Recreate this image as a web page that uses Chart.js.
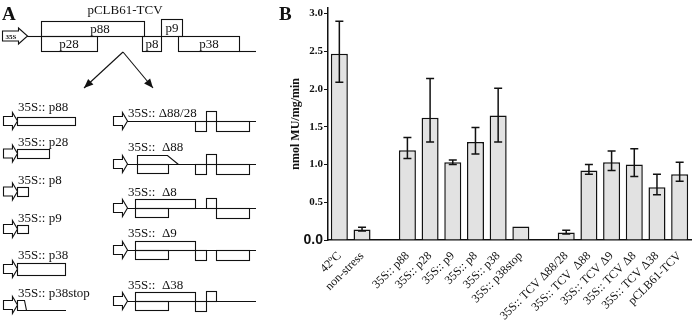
<!doctype html>
<html lang="en">
<head>
<meta charset="utf-8">
<title>pCLB61-TCV</title>
<script src="https://cdn.jsdelivr.net/npm/chart.js@4"></script>
<style>
html, body {margin: 0; padding: 0; background: #fff;}
#wrap {width: 696px; height: 324px;}
</style>
</head>
<body>
<div id="wrap"><canvas id="chart" width="696" height="324"></canvas></div>
<script>
// Données du graphique (panneau B)
const categories = ['42ºC', 'non-stress', '', '35S:: p88', '35S:: p28', '35S:: p9', '35S:: p8', '35S:: p38', '35S:: p38stop', '',
  '35S:: TCV Δ88/28', '35S:: TCV  Δ88', '35S:: TCV Δ9', '35S:: TCV Δ8', '35S:: TCV Δ38', 'pCLB61-TCV'];
const activity    = [2.47, 0.14, null, 1.19, 1.62, 1.03, 1.30, 1.65, 0.18, null, 0.10, 0.92, 1.03, 1.00, 0.70, 0.87];
const errorTop    = [2.90, 0.17, null, 1.36, 2.14, 1.06, 1.49, 2.01, null, null, 0.13, 1.00, 1.18, 1.21, 0.87, 1.03];
const errorBottom = [2.09, 0.12, null, 1.08, 1.30, 1.00, 1.14, 1.30, null, null, 0.08, 0.87, 0.92, 0.84, 0.60, 0.78];
const yAxisTitle = 'nmol MU/mg/min';

const serif = "'Liberation Serif', 'Times New Roman', serif";
const sans = "'Liberation Sans', Arial, sans-serif";
const ink = '#111';

// Barres d'erreur
const errorBars = {
  id: 'errorBars',
  afterDatasetsDraw(chart) {
    const ctx = chart.ctx;
    const meta = chart.getDatasetMeta(0);
    const y = chart.scales.y;
    ctx.save();
    ctx.strokeStyle = ink;
    ctx.lineWidth = 1.5;
    meta.data.forEach((bar, i) => {
      if (errorTop[i] == null) return;
      const x = bar.x;
      const yt = y.getPixelForValue(errorTop[i]);
      const yb = y.getPixelForValue(errorBottom[i]);
      ctx.beginPath();
      ctx.moveTo(x, yt); ctx.lineTo(x, yb);
      ctx.moveTo(x - 4, yt); ctx.lineTo(x + 4, yt);
      ctx.moveTo(x - 4, yb); ctx.lineTo(x + 4, yb);
      ctx.stroke();
    });
    ctx.restore();
  }
};

// Schéma du panneau A
function promoter(ctx, x, cy, len, h, bh) {
  const bx = x + len * 0.64;
  ctx.beginPath();
  ctx.moveTo(x, cy - bh / 2); ctx.lineTo(bx, cy - bh / 2); ctx.lineTo(bx, cy - h / 2);
  ctx.lineTo(x + len, cy); ctx.lineTo(bx, cy + h / 2); ctx.lineTo(bx, cy + bh / 2);
  ctx.lineTo(x, cy + bh / 2); ctx.closePath();
  ctx.fillStyle = '#fff'; ctx.fill(); ctx.stroke();
}
function box(ctx, x1, x2, y1, y2) {
  ctx.strokeRect(x1 + 0.5, y1 + 0.5, x2 - x1, y2 - y1);
}
function line(ctx, x1, y1, x2, y2) {
  ctx.beginPath(); ctx.moveTo(x1, y1); ctx.lineTo(x2, y2); ctx.stroke();
}
function headArrow(ctx, x1, y1, x2, y2) {
  line(ctx, x1, y1, x2, y2);
  const a = Math.atan2(y2 - y1, x2 - x1), L = 10, w = 0.4;
  ctx.beginPath();
  ctx.moveTo(x2, y2);
  ctx.lineTo(x2 - L * Math.cos(a - w), y2 - L * Math.sin(a - w));
  ctx.lineTo(x2 - L * Math.cos(a + w), y2 - L * Math.sin(a + w));
  ctx.closePath(); ctx.fillStyle = ink; ctx.fill();
}

const panelA = {
  id: 'panelA',
  afterDraw(chart) {
    const ctx = chart.ctx;
    ctx.save();
    ctx.strokeStyle = ink;
    ctx.fillStyle = ink;
    ctx.lineWidth = 1.1;

    // lettres des panneaux
    ctx.font = 'bold 19px ' + serif;
    ctx.textBaseline = 'alphabetic';
    ctx.fillText('A', 2, 20);
    ctx.fillText('B', 279, 20);

    // construction complète
    ctx.font = '13px ' + serif;
    ctx.textAlign = 'center';
    ctx.fillText('pCLB61-TCV', 125, 14);
    line(ctx, 27, 36.5, 41, 36.5);
    box(ctx, 41, 144, 21, 36);
    box(ctx, 41, 97, 36, 51);
    box(ctx, 142, 161, 36, 51);
    box(ctx, 161, 182, 19, 36);
    box(ctx, 178, 239, 36, 51);
    line(ctx, 239, 51.5, 256, 51.5);
    ctx.fillStyle = ink;
    ctx.fillText('p88', 100, 33);
    ctx.fillText('p28', 69, 48);
    ctx.fillText('p8', 152, 48);
    ctx.fillText('p9', 172, 32);
    ctx.fillText('p38', 209, 48);
    promoter(ctx, 2.5, 36, 25, 16, 10);
    ctx.fillStyle = ink;
    ctx.font = 'bold 7px ' + serif;
    ctx.fillText('35S', 11, 39);

    headArrow(ctx, 123, 52, 84, 88);
    headArrow(ctx, 123, 52, 153, 88);

    // colonne de gauche
    ctx.textAlign = 'left';
    ctx.font = '13px ' + serif;
    const left = [
      {t: '35S:: p88', ty: 111, cy: 121, x2: 75, h: 8},
      {t: '35S:: p28', ty: 146, cy: 153.5, x2: 49, h: 9},
      {t: '35S:: p8', ty: 184, cy: 191.5, x2: 28, h: 9},
      {t: '35S:: p9', ty: 222, cy: 229, x2: 28, h: 8},
      {t: '35S:: p38', ty: 259, cy: 269, x2: 65, h: 12}
    ];
    left.forEach(r => {
      ctx.fillStyle = ink;
      ctx.fillText(r.t, 18, r.ty);
      box(ctx, 17, r.x2, Math.round(r.cy - r.h / 2), Math.round(r.cy + r.h / 2));
      promoter(ctx, 3.5, r.cy, 14, 17, 9);
    });
    ctx.fillStyle = ink;
    ctx.fillText('35S:: p38stop', 18, 297);
    ctx.beginPath();
    ctx.moveTo(17.5, 300.5); ctx.lineTo(24.5, 300.5); ctx.lineTo(26.5, 310.5); ctx.lineTo(17.5, 310.5); ctx.closePath();
    ctx.stroke();
    line(ctx, 26, 310.5, 66, 310.5);
    promoter(ctx, 3.5, 305, 14, 17, 9);

    // colonne de droite
    const right = [
      {t: '35S:: Δ88/28', ty: 117, cy: 121, p88: 0, p28: false, p8: true, p9: true, p38: true},
      {t: '35S::  Δ88', ty: 151, cy: 164, p88: 2, p28: true, p8: true, p9: true, p38: true},
      {t: '35S::  Δ8', ty: 196, cy: 208, p88: 1, p28: true, p8: false, p9: true, p38: true},
      {t: '35S::  Δ9', ty: 237, cy: 250, p88: 1, p28: true, p8: true, p9: false, p38: true},
      {t: '35S::  Δ38', ty: 289, cy: 301, p88: 1, p28: true, p8: true, p9: true, p38: false}
    ];
    right.forEach(r => {
      const c = r.cy;
      ctx.fillStyle = ink;
      ctx.fillText(r.t, 128, r.ty);
      line(ctx, 127, c + 0.5, 256, c + 0.5);
      if (r.p88 === 1) box(ctx, 135, 195, c - 9, c);
      if (r.p88 === 2) {
        ctx.beginPath();
        ctx.moveTo(137.5, c + 0.5); ctx.lineTo(137.5, c - 8.5); ctx.lineTo(167.5, c - 8.5); ctx.lineTo(178.5, c + 0.5);
        ctx.stroke();
      }
      if (r.p28) box(ctx, r.p88 === 2 ? 137 : 135, 168, c, c + 9);
      if (r.p8) box(ctx, 195, 206, c, c + 10);
      if (r.p9) box(ctx, 206, 216, c - 10, c);
      if (r.p38) box(ctx, 216, 249, c, c + 10);
      promoter(ctx, 113.5, c, 14, 17, 9);
    });
    ctx.restore();
  }
};

new Chart(document.getElementById('chart'), {
  type: 'bar',
  data: {
    labels: categories,
    datasets: [{
      data: activity,
      backgroundColor: '#e2e2e2',
      borderColor: ink,
      borderWidth: 1.5,
      barPercentage: 0.75,
      categoryPercentage: 1
    }]
  },
  options: {
    responsive: false,
    animation: false,
    devicePixelRatio: 1,
    layout: {padding: {left: 285, top: 3, right: 5, bottom: 0}},
    plugins: {legend: {display: false}, tooltip: {enabled: false}},
    scales: {
      x: {
        grid: {display: false},
        border: {display: true, color: ink, width: 1.5},
        ticks: {
          autoSkip: false, minRotation: 45, maxRotation: 45, padding: 1,
          color: ink, font: {family: serif, size: 12}
        },
        afterFit: s => { s.height = 84; }
      },
      y: {
        min: 0, max: 3.08,
        grid: {drawOnChartArea: false, drawTicks: true, tickLength: 4, color: ink, lineWidth: 1},
        border: {display: true, color: ink, width: 1.5},
        ticks: {
          stepSize: 0.5, includeBounds: false, padding: 1, color: ink,
          callback: v => v.toFixed(1),
          font: c => (c.tick && c.tick.value === 0)
            ? {family: sans, size: 14, weight: 'bold'}
            : {family: serif, size: 11, weight: 'bold'}
        },
        title: {
          display: true, text: yAxisTitle, color: ink,
          font: {family: serif, size: 12, weight: 'bold'},
          padding: {top: 4, bottom: 0}
        },
        afterFit: s => { s.width = 43; }
      }
    }
  },
  plugins: [errorBars, panelA]
});
</script>
</body>
</html>
